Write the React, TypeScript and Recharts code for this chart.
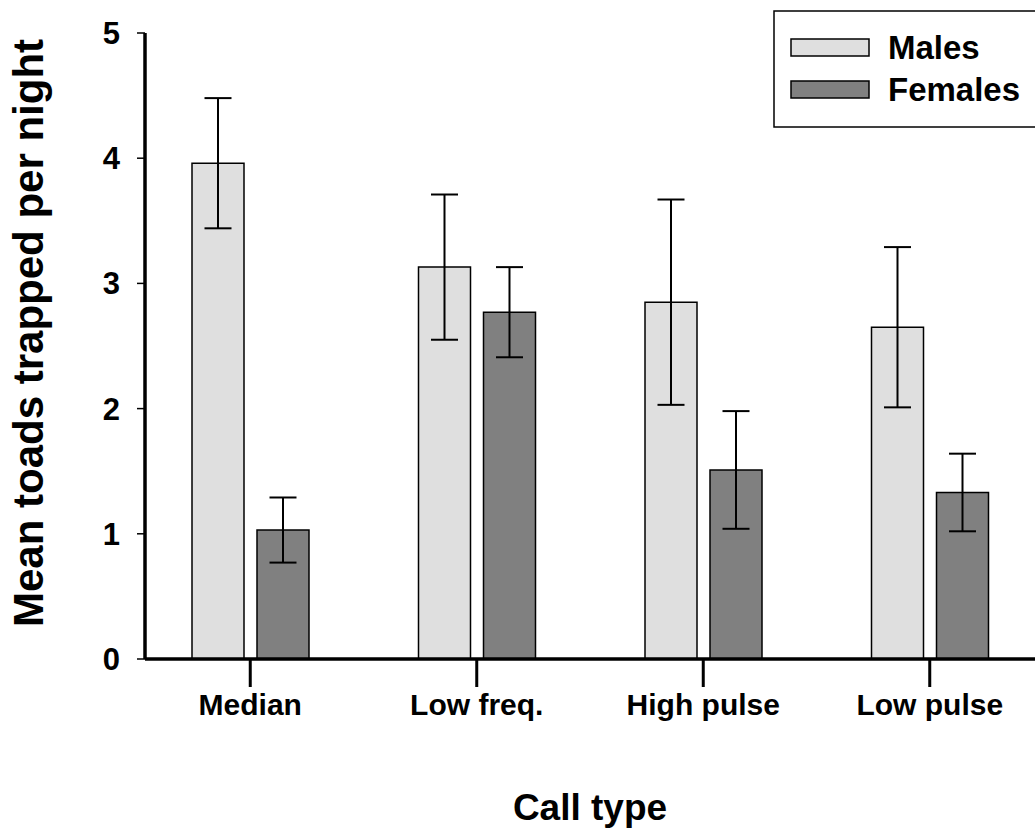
import React from 'react';
import { BarChart, Bar, XAxis, YAxis, ErrorBar, Legend } from 'recharts';

const categories = ['Median', 'Low freq.', 'High pulse', 'Low pulse'];
const malesMean = [3.96, 3.13, 2.85, 2.65];
const malesErr = [0.52, 0.58, 0.82, 0.64];
const femalesMean = [1.03, 2.77, 1.51, 1.33];
const femalesErr = [0.26, 0.36, 0.47, 0.31];
const yTicks = [0, 1, 2, 3, 4, 5];
const seriesNames = ['Males', 'Females'];
const seriesColors = ['#dfdfdf', '#808080'];

const data = categories.map((c, i) => ({
  category: c,
  males: malesMean[i],
  malesErr: malesErr[i],
  females: femalesMean[i],
  femalesErr: femalesErr[i],
}));

const FONT = '"Liberation Sans", Arial, sans-serif';

const LegendBox = () => (
  <svg width={270} height={120} style={{ display: 'block' }}>
    <rect x={1} y={1} width={300} height={116} fill="#fff" stroke="#000" strokeWidth={1.5} />
    {seriesNames.map((n, i) => (
      <g key={n}>
        <rect x={18} y={29 + i * 42} width={78} height={17} fill={seriesColors[i]} stroke="#000" strokeWidth={1.5} />
        <text x={115} y={49 + i * 42} fontFamily={FONT} fontWeight="bold" fontSize={33} fill="#000">
          {n}
        </text>
      </g>
    ))}
  </svg>
);

export default function App() {
  return (
    <div style={{ position: 'absolute', left: 0, top: 0, width: 1035, height: 834, background: '#fff' }}>
      <BarChart
        width={1035}
        height={834}
        data={data}
        margin={{ top: 33, right: 0, bottom: 0, left: 0 }}
        barSize={52}
        barGap={13}
      >
        <XAxis
          dataKey="category"
          height={175}
          padding={{ left: -8, right: -8 }}
          axisLine={{ stroke: '#000', strokeWidth: 3.5 }}
          tickLine={{ stroke: '#000', strokeWidth: 3 }}
          tickSize={28}
          tickMargin={7}
          tick={{ fill: '#000', fontSize: 30, fontWeight: 'bold', fontFamily: FONT }}
          label={{
            content: ({ viewBox }: any) => (
              <text
                x={viewBox.x + viewBox.width / 2}
                y={viewBox.y + 161}
                textAnchor="middle"
                fontFamily={FONT}
                fontWeight="bold"
                fontSize={37}
                fill="#000"
              >
                Call type
              </text>
            ),
          }}
        />
        <YAxis
          width={145}
          domain={[0, 5]}
          ticks={yTicks}
          interval={0}
          axisLine={{ stroke: '#000', strokeWidth: 3.5 }}
          tickLine={{ stroke: '#000', strokeWidth: 1.5 }}
          tickSize={8}
          tickMargin={17}
          tick={{ fill: '#000', fontSize: 31, fontWeight: 'bold', fontFamily: FONT }}
          label={{
            content: ({ viewBox }: any) => (
              <text
                transform={`translate(${viewBox.x + 28}, ${viewBox.y + viewBox.height / 2 - 13}) rotate(-90)`}
                textAnchor="middle"
                dominantBaseline="central"
                fontFamily={FONT}
                fontWeight="bold"
                fontSize={42}
                fill="#000"
              >
                Mean toads trapped per night
              </text>
            ),
          }}
        />
        <Legend
          layout="horizontal"
          verticalAlign="middle"
          align="center"
          content={() => <LegendBox />}
          wrapperStyle={{ position: 'absolute', left: 773, top: 10, width: 270 }}
        />
        <Bar dataKey="males" name={seriesNames[0]} fill={seriesColors[0]} stroke="#000" strokeWidth={1.5} isAnimationActive={false}>
          <ErrorBar dataKey="malesErr" width={13.5} stroke="#000" strokeWidth={2} isAnimationActive={false} />
        </Bar>
        <Bar dataKey="females" name={seriesNames[1]} fill={seriesColors[1]} stroke="#000" strokeWidth={1.5} isAnimationActive={false}>
          <ErrorBar dataKey="femalesErr" width={13.5} stroke="#000" strokeWidth={2} isAnimationActive={false} />
        </Bar>
      </BarChart>
    </div>
  );
}
